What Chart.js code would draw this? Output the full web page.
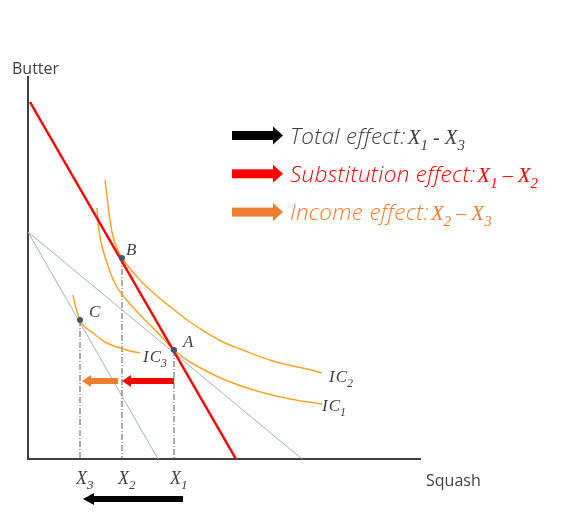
<!DOCTYPE html>
<html>
<head>
<meta charset="utf-8">
<script src="https://cdn.jsdelivr.net/npm/chart.js@4.4.1/dist/chart.umd.min.js"></script>
<style>
html, body { margin: 0; padding: 0; background: #fff; }
</style>
</head>
<body>
<canvas id="chart" width="582" height="524"></canvas>
<script>
// budget lines (squash on x, butter on y)
var compensatedBudget = [{x: 0.5, y: 89.25}, {x: 52, y: 0}];
var newBudget = [{x: 0, y: 56.75}, {x: 32.5, y: 0}];
var oldBudget = [{x: 0, y: 56.75}, {x: 68.5, y: 0}];

// indifference curves
var ic1 = [
	{x: 17.25, y: 62.75}, {x: 18, y: 55.5}, {x: 19.75, y: 49}, {x: 22.25, y: 43},
	{x: 25.5, y: 38.75}, {x: 29.75, y: 34.25}, {x: 33, y: 31}, {x: 36.5, y: 27.25},
	{x: 40.5, y: 24.25}, {x: 48.75, y: 20}, {x: 57.25, y: 17}, {x: 65.5, y: 15},
	{x: 73.5, y: 13.75}
];
var ic2 = [
	{x: 19.25, y: 69.75}, {x: 20.5, y: 59.75}, {x: 21.5, y: 54.75}, {x: 23.5, y: 50.25},
	{x: 28, y: 44.75}, {x: 32.25, y: 40.75}, {x: 36.25, y: 37.5}, {x: 40.5, y: 34.25},
	{x: 44.75, y: 31.5}, {x: 48.75, y: 29.25}, {x: 53, y: 27.5}, {x: 61.25, y: 24.5},
	{x: 69.75, y: 22.5}, {x: 73.5, y: 21.5}
];
var ic3 = [
	{x: 11.25, y: 41}, {x: 12, y: 37.75}, {x: 13, y: 34.75}, {x: 14.25, y: 33},
	{x: 16.25, y: 31.5}, {x: 19.25, y: 29.25}, {x: 22.25, y: 28}, {x: 25.5, y: 27},
	{x: 28, y: 26.5}
];

// optimum points
var pointNames = ['A', 'B', 'C'];
var pointX = [36.5, 23.5, 13];
var pointY = [27.25, 50.25, 34.75];

// tick labels on squash axis
var tickValues = [13, 23.5, 36.5];
var tickBase = ['X', 'X', 'X'];
var tickSub = ['3', '2', '1'];

// effect arrows (from, to, height)
var arrowNames = ['income', 'substitution', 'total'];
var arrowFrom = [22.5, 36.5, 38.75];
var arrowTo = [13.5, 23.5, 13.75];
var arrowY = [19.5, 19.5, -10];
var arrowColors = ['#ed7d31', '#ff0000', '#000000'];

// legend
var legendText = ['Total effect:', 'Substitution effect:', 'Income effect:'];
var legendFromSub = ['1', '1', '2'];
var legendToSub = ['3', '2', '3'];
var legendDash = [' - ', ' \u2013 ', ' \u2013 '];
var legendTextColors = ['#404040', '#ff0000', '#ed7d31'];
var legendArrowColors = ['#000000', '#ff0000', '#ed7d31'];

var fontSans = '"Open Sans", "Lato", sans-serif';
var fontMath = '"Liberation Serif", "DejaVu Serif", serif';

function mathRuns(base, sub, size, color) {
	return [
		{text: base, font: 'italic ' + size + 'px ' + fontMath, color: color, dy: 0},
		{text: sub, font: 'italic ' + Math.round(size * 0.72) + 'px ' + fontMath, color: color, dy: Math.round(size * 0.28)}
	];
}

function drawRuns(ctx, x, y, runs) {
	ctx.textBaseline = 'alphabetic';
	ctx.textAlign = 'left';
	runs.forEach(function (r) {
		ctx.font = r.font;
		ctx.fillStyle = r.color;
		ctx.letterSpacing = r.spacing || '0px';
		ctx.fillText(r.text, x, y + (r.dy || 0));
		x += ctx.measureText(r.text).width + (r.gap || 0);
	});
	ctx.letterSpacing = '0px';
	return x;
}

function drawArrow(ctx, x0, x1, y, color, shaftW, headLen, headHalf) {
	var dir = x1 > x0 ? 1 : -1;
	var shaftEnd = x1 - dir * headLen;
	ctx.fillStyle = color;
	ctx.fillRect(Math.min(x0, shaftEnd), y - shaftW / 2, Math.abs(shaftEnd - x0), shaftW);
	ctx.beginPath();
	ctx.moveTo(x1, y);
	ctx.lineTo(shaftEnd, y - headHalf);
	ctx.lineTo(shaftEnd, y + headHalf);
	ctx.closePath();
	ctx.fill();
}

var annotations = {
	id: 'annotations',
	afterDatasetsDraw: function (chart) {
		var ctx = chart.ctx;
		var xs = chart.scales.x;
		var ys = chart.scales.y;
		ctx.save();

		// axis titles
		ctx.font = '16px "Open Sans", sans-serif';
		ctx.fillStyle = '#404040';
		ctx.fillText('Butter', 12, 74);
		ctx.fillText('Squash', 426, 486);

		// effect arrows
		for (var i = 0; i < arrowNames.length; i++) {
			var big = arrowNames[i] == 'total';
			drawArrow(ctx, xs.getPixelForValue(arrowFrom[i]), xs.getPixelForValue(arrowTo[i]),
				ys.getPixelForValue(arrowY[i]), arrowColors[i], 6, big ? 11 : 9, 6);
		}

		// tick labels
		for (var t = 0; t < tickValues.length; t++) {
			var tx = xs.getPixelForValue(tickValues[t]);
			drawRuns(ctx, tx - 4, 484, mathRuns(tickBase[t], tickSub[t], 18, '#404040'));
		}

		// point labels
		var offsets = {A: [9, -3], B: [4, -3], C: [9, -3]};
		for (var p = 0; p < pointNames.length; p++) {
			var px = xs.getPixelForValue(pointX[p]);
			var py = ys.getPixelForValue(pointY[p]);
			var o = offsets[pointNames[p]];
			drawRuns(ctx, px + o[0], py + o[1], [{text: pointNames[p], font: 'italic 17px ' + fontMath, color: '#404040'}]);
		}

		// curve labels
		var curves = [[ic1, '1', 0, 7], [ic2, '2', 7, 9], [ic3, '3', 3, 9]];
		curves.forEach(function (c) {
			var last = c[0][c[0].length - 1];
			var cx = xs.getPixelForValue(last.x) + c[2];
			var cy = ys.getPixelForValue(last.y) + c[3];
			drawRuns(ctx, cx, cy, [{text: 'I', font: 'italic 17px ' + fontMath, color: '#404040', gap: 1}].concat(mathRuns('C', c[1], 17, '#404040')));
		});

		// legend
		for (var k = 0; k < legendText.length; k++) {
			var ly = 135.5 + k * 38.3;
			var col = legendTextColors[k];
			drawArrow(ctx, 232, 283, ly, legendArrowColors[k], 9, 10, 9);
			var runs = [{text: legendText[k], font: '300 italic 22.5px ' + fontSans, color: col, gap: 2, spacing: '0.3px'}]
				.concat(mathRuns('X', legendFromSub[k], 21, col))
				.concat([{text: legendDash[k], font: 'italic 20px ' + fontMath, color: col}])
				.concat(mathRuns('X', legendToSub[k], 21, col));
			drawRuns(ctx, 290, ly + 8, runs);
		}

		ctx.restore();
	}
};

function lineSet(data, color, width, dash, tension) {
	return {
		data: data,
		showLine: true,
		borderColor: color,
		borderWidth: width,
		borderDash: dash || [],
		pointRadius: 0,
		tension: tension || 0,
		fill: false
	};
}

var datasets = [];
datasets.push({
	data: pointX.map(function (x, i) { return {x: x, y: pointY[i]}; }),
	pointRadius: 3,
	pointBackgroundColor: '#44546a',
	pointBorderWidth: 0
});
datasets.push(lineSet(compensatedBudget, '#ff0000', 2.5));
datasets.push(lineSet(ic1, '#f6a52b', 1.5, null, 0.4));
datasets.push(lineSet(ic2, '#f6a52b', 1.5, null, 0.4));
datasets.push(lineSet(ic3, '#f6a52b', 1.5, null, 0.4));
for (var d = 0; d < pointX.length; d++) {
	datasets.push(lineSet([{x: pointX[d], y: pointY[d]}, {x: pointX[d], y: 0}], '#595959', 1, [6, 2, 1, 2]));
}
datasets.push(lineSet(newBudget, '#a7afbf', 1));
datasets.push(lineSet(oldBudget, '#a7afbf', 1));

var ctx = document.getElementById('chart').getContext('2d');
var chart = new Chart(ctx, {
	type: 'scatter',
	data: {datasets: datasets},
	options: {
		responsive: false,
		animation: false,
		layout: {padding: {left: 0, top: 77, right: 162, bottom: 0}},
		plugins: {legend: {display: false}, tooltip: {enabled: false}},
		scales: {
			x: {
				type: 'linear', min: 0, max: 98,
				grid: {display: false},
				border: {color: '#404040', width: 2},
				ticks: {display: false},
				afterFit: function (s) { s.height = 65; }
			},
			y: {
				type: 'linear', min: 0, max: 95.5,
				grid: {display: false},
				border: {color: '#404040', width: 2},
				ticks: {display: false},
				afterFit: function (s) { s.width = 28; }
			}
		}
	},
	plugins: [annotations]
});
</script>
</body>
</html>
